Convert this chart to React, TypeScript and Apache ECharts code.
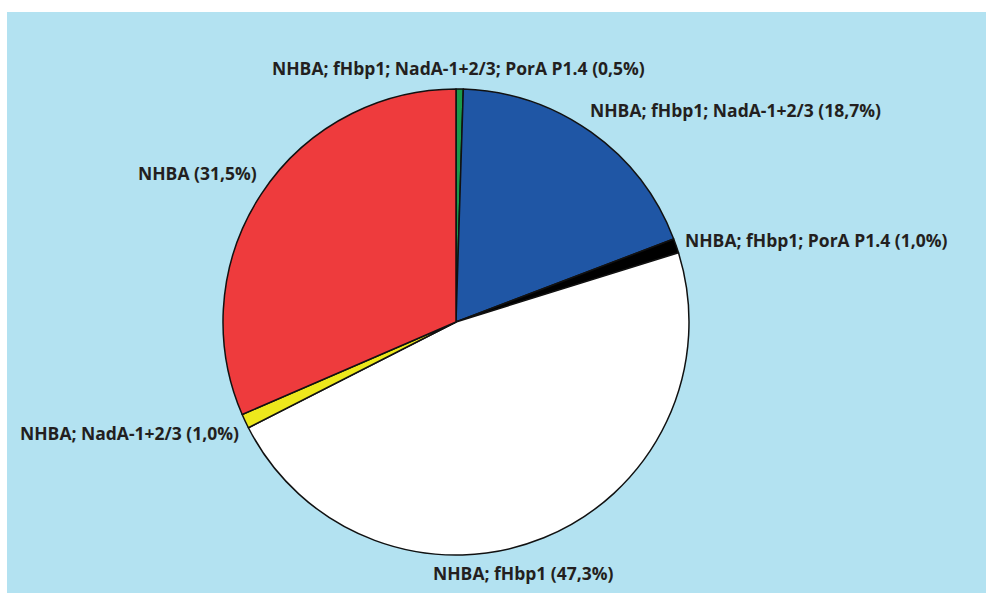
import React, { useEffect, useRef } from "react";
import * as echarts from "echarts";

const categories = [
  "NHBA; fHbp1; NadA-1+2/3; PorA P1.4",
  "NHBA; fHbp1; NadA-1+2/3",
  "NHBA; fHbp1; PorA P1.4",
  "NHBA; fHbp1",
  "NHBA; NadA-1+2/3",
  "NHBA",
];
const values = [0.5, 18.7, 1.0, 47.3, 1.0, 31.5];
const valueLabels = ["0,5", "18,7", "1,0", "47,3", "1,0", "31,5"];
const colors = ["#1a9a4a", "#1f56a5", "#000000", "#ffffff", "#ede81c", "#ee3b3d"];
// label anchor (left x, middle y)
const labelPos: [number, number][] = [
  [272, 68],
  [590, 110],
  [685, 240],
  [433, 573],
  [20, 433],
  [138, 173],
];

export default function App() {
  const ref = useRef<HTMLDivElement>(null);
  useEffect(() => {
    const chart = echarts.init(ref.current!, null, { renderer: "svg" });
    chart.setOption({
      animation: false,
      graphic: [
        {
          type: "rect",
          z: -10,
          silent: true,
          shape: { x: 7, y: 12, width: 979, height: 581 },
          style: { fill: "#b3e2f1" },
        },
      ],
      series: [
        {
          type: "pie",
          center: [456, 322],
          radius: [0, 233],
          startAngle: 90,
          clockwise: true,
          avoidLabelOverlap: false,
          itemStyle: { borderColor: "#111111", borderWidth: 1.5 },
          labelLine: { show: false },
          label: {
            show: true,
            position: "outside",
            fontFamily: "Open Sans",
            fontWeight: "bold",
            fontSize: 17.5,
            color: "#231f20",
            formatter: (p: any) => `${p.name} (${valueLabels[p.dataIndex]}%)`,
          },
          labelLayout: (p: any) => ({
            x: labelPos[p.dataIndex][0],
            y: labelPos[p.dataIndex][1],
            align: "left",
            verticalAlign: "middle",
          }),
          emphasis: { disabled: true },
          data: categories.map((c, i) => ({
            name: c,
            value: values[i],
            itemStyle: { color: colors[i] },
          })),
        },
      ],
    });
    return () => chart.dispose();
  }, []);
  return (
    <div
      ref={ref}
      style={{ position: "absolute", left: 0, top: 0, width: 986, height: 593 }}
    />
  );
}
